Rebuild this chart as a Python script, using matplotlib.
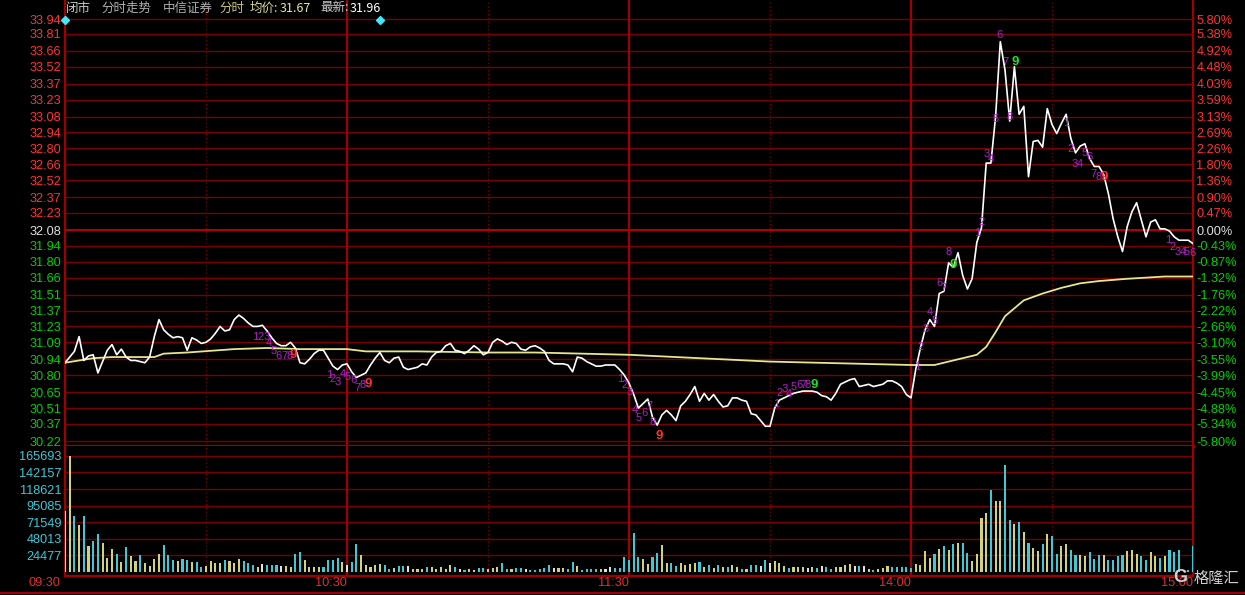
import matplotlib
matplotlib.use('Agg')
import matplotlib.pyplot as plt
from matplotlib.lines import Line2D

# ---------------- data ----------------
prev_close = 32.08
minutes = list(range(241))
price = [
    30.91, 30.96, 31.01, 31.14, 30.93, 30.97, 30.98, 30.82, 30.92, 31.02,
    31.07, 30.98, 31.03, 30.96, 30.93, 30.93, 30.92, 30.91, 30.96, 31.14,
    31.29, 31.20, 31.16, 31.13, 31.14, 31.13, 31.02, 31.13, 31.11, 31.08,
    31.09, 31.12, 31.17, 31.23, 31.19, 31.20, 31.29, 31.33, 31.30, 31.26,
    31.23, 31.23, 31.24, 31.19, 31.13, 31.08, 31.06, 31.06, 31.09, 31.04,
    30.91, 30.90, 30.94, 30.99, 31.02, 31.02, 30.95, 30.88, 30.85, 30.89,
    30.90, 30.83, 30.78, 30.80, 30.82, 30.89, 30.95, 31.00, 30.93, 30.91,
    30.95, 30.96, 30.87, 30.85, 30.86, 30.87, 30.90, 30.89, 30.96, 31.00,
    31.01, 31.06, 31.08, 31.02, 31.01, 30.99, 31.02, 31.06, 31.03, 30.98,
    31.00, 31.09, 31.12, 31.10, 31.07, 31.09, 31.08, 31.03, 31.02, 31.05,
    31.06, 31.04, 31.01, 30.93, 30.90, 30.90, 30.90, 30.89, 30.83, 30.96,
    30.95, 30.92, 30.90, 30.88, 30.88, 30.89, 30.89, 30.89, 30.85, 30.80,
    30.73,
    30.63, 30.51, 30.55, 30.59, 30.43, 30.36, 30.45, 30.49, 30.45, 30.40,
    30.53, 30.57, 30.63, 30.70, 30.57, 30.64, 30.58, 30.63, 30.57, 30.52,
    30.53, 30.60, 30.60, 30.58, 30.57, 30.46, 30.45, 30.40, 30.35, 30.35,
    30.51, 30.58, 30.60, 30.62, 30.64, 30.65, 30.66, 30.66, 30.66, 30.65,
    30.62, 30.61, 30.58, 30.64, 30.72, 30.74, 30.76, 30.77, 30.70, 30.71,
    30.72, 30.70, 30.71, 30.72, 30.75, 30.75, 30.73, 30.70, 30.63, 30.60,
    30.85, 31.04, 31.20, 31.29, 31.23, 31.52, 31.54, 31.79, 31.75, 31.88,
    31.68, 31.56, 31.65, 31.97, 32.10, 32.67, 32.67, 33.08, 33.74, 33.49,
    33.04, 33.52, 33.10, 33.17, 32.55, 32.86, 32.87, 32.81, 33.15, 33.01,
    32.93, 33.02, 33.10, 32.89, 32.76, 32.82, 32.84, 32.71, 32.64, 32.64,
    32.57, 32.40, 32.18, 32.02, 31.89, 32.11, 32.24, 32.32, 32.17, 32.02,
    32.15, 32.17, 32.09, 32.09, 32.07, 32.02, 31.99, 31.99, 31.99, 31.96,
]
avg_minutes = [0, 3, 6, 10, 19, 21, 26, 36, 43, 50, 60, 64, 75, 90, 100,
               110, 120, 130, 140, 150, 160, 170, 180, 185, 188, 192, 194,
               196, 198, 200, 202, 204, 208, 212, 216, 220, 226, 234, 240]
avg_price = [30.91, 30.93, 30.95, 30.96, 30.96, 30.99, 31.00, 31.03, 31.04,
             31.03, 31.03, 31.01, 31.01, 31.00, 31.00, 30.99, 30.98, 30.96,
             30.94, 30.92, 30.91, 30.90, 30.89, 30.89, 30.92, 30.96, 30.98,
             31.05, 31.18, 31.32, 31.39, 31.46, 31.52, 31.57, 31.61, 31.63,
             31.65, 31.67, 31.67]
volume = [
    87080, 166000, 80490, 67310, 80490, 38130, 44250, 55070, 41420, 20240,
    33420, 26830, 14590, 36240, 24010, 16470, 24950, 12710, 8940, 19300,
    25890, 39070, 24950, 17420, 16470, 19300, 18360, 14590, 14590, 8000,
    8470, 16470, 12710, 12710, 17420, 16470, 13650, 19300, 16470, 12710,
    9880, 8000, 11770, 9880, 9880, 9880, 8940, 8940, 8000, 26830,
    29650, 17420, 8000, 8000, 8000, 7060, 17420, 18360, 21180, 14590,
    10830, 15530, 40010, 24950, 10830, 7060, 9880, 11770, 9880, 5180,
    6120, 8940, 8940, 8940, 5180, 5180, 5180, 7060, 8000, 5180,
    8000, 5180, 9880, 8000, 5180, 3300, 5180, 3300, 6120, 6120,
    5180, 6120, 8000, 12710, 4240, 4240, 6120, 6120, 4240, 3300,
    3300, 5180, 6120, 9880, 6120, 6120, 6120, 4240, 15530, 8940,
    3300, 4240, 4240, 5180, 4240, 4240, 7060, 6120, 6120, 22120,
    18360,
    56010, 22120, 19300, 11770, 22120, 27770, 39070, 12710, 12710, 8940,
    12710, 9880, 11770, 13650, 15530, 7060, 10830, 6120, 9880, 7060,
    7060, 10830, 8000, 4240, 5180, 9880, 10830, 8940, 18360, 12710,
    16470, 12710, 8940, 6120, 8000, 8000, 7060, 6120, 7060, 6120,
    8940, 7060, 5180, 7060, 7060, 10830, 11770, 8940, 8940, 8940,
    5180, 3300, 5180, 6120, 8940, 7060, 7060, 8000, 7060, 6120,
    11770, 10830, 30600, 20240, 26830, 33420, 37190, 31540, 40010, 41890,
    41890, 27770, 16470, 26830, 76720, 84260, 117200, 101200, 101200, 152980,
    74840, 68250, 72020, 57900, 41890, 34360, 30600, 40010, 55070, 51310,
    25890, 38130, 40950, 32480, 24950, 24950, 23060, 29650, 19300, 24950,
    24950, 18360, 18360, 24010, 24950, 30600, 31540, 25890, 24010, 18360,
    29650, 23060, 21180, 24010, 31540, 29650, 32480, 4000, 4000, 38130,
]
# tick direction of each minute: u = up, d = down, f = flat
vol_dir = "".join([
    "fudududduu", "ududuuduuu", "uddduddudd", "uuuuduuudd", "dufdddfuud",
    "duuuuddddu", "fdduuuuudd", "uddfuuuduu", "uuudfduudd", "uuudduddfd",
    "ddddfuuddu", "dddduffddd", "d",
    "dduudduudd", "uuuudududu", "duududdfdf", "uuuduuufud", "fdduuuufdf",
    "uduuuddddd", "uuuudududu", "dduuuuduud", "dududuudud", "duudduuddd",
    "udddduuudd", "uududddddd",
])
price_ticks = [33.94, 33.81, 33.66, 33.52, 33.37, 33.23, 33.08, 32.94, 32.80,
               32.66, 32.52, 32.37, 32.23, 32.08, 31.94, 31.80, 31.66, 31.51,
               31.37, 31.23, 31.09, 30.94, 30.80, 30.65, 30.51, 30.37, 30.22]
pct_labels = ['5.80%', '5.38%', '4.92%', '4.48%', '4.03%', '3.59%', '3.13%',
              '2.69%', '2.26%', '1.80%', '1.36%', '0.90%', '0.47%', '0.00%',
              '-0.43%', '-0.87%', '-1.32%', '-1.76%', '-2.22%', '-2.66%',
              '-3.10%', '-3.55%', '-3.99%', '-4.45%', '-4.88%', '-5.34%',
              '-5.80%']
vol_ticks = [165693, 142157, 118621, 95085, 71549, 48013, 24477]
time_ticks = [0, 60, 120, 180, 240]
time_labels = ['09:30', '10:30', '11:30', '14:00', '15:00']
half_hour_ticks = [30, 90, 150, 210]
event_minutes = [0, 67]
# TD sequential counts: (minute, price, text, kind)  p=purple r=red g=green
td_marks = [
    (40.4, 31.14, '1', 'p'), (41.7, 31.14, '2', 'p'), (43.0, 31.14, '3', 'p'),
    (43.4, 31.08, '4', 'p'), (44.3, 31.01, '5', 'p'), (45.5, 30.97, '6', 'p'),
    (46.6, 30.97, '7', 'p'), (47.7, 30.97, '8', 'p'), (48.6, 30.98, '9', 'r'),
    (56.2, 30.80, '1', 'p'), (57.0, 30.77, '2', 'p'), (58.1, 30.74, '3', 'p'),
    (59.1, 30.81, '4', 'p'), (60.2, 30.78, '5', 'p'), (61.3, 30.76, '6', 'p'),
    (62.3, 30.69, '7', 'p'), (63.4, 30.71, '8', 'p'), (64.5, 30.72, '9', 'r'),
    (118.1, 30.77, '1', 'p'), (119.1, 30.71, '2', 'p'), (120.2, 30.65, '3', 'p'),
    (121.3, 30.49, '4', 'p'), (122.1, 30.42, '5', 'p'), (123.2, 30.47, '6', 'p'),
    (124.3, 30.53, '7', 'p'), (125.1, 30.39, '8', 'p'), (126.4, 30.26, '9', 'r'),
    (151.3, 30.55, '1', 'p'), (152.1, 30.64, '2', 'p'), (153.2, 30.68, '3', 'p'),
    (154.0, 30.63, '4', 'p'), (155.1, 30.70, '5', 'p'), (156.2, 30.71, '6', 'p'),
    (157.2, 30.71, '7', 'p'), (158.1, 30.71, '8', 'p'), (159.4, 30.71, '9', 'g'),
    (181.3, 30.87, '1', 'p'), (182.1, 31.05, '2', 'p'), (183.2, 31.21, '3', 'p'),
    (184.0, 31.36, '4', 'p'), (185.1, 31.28, '5', 'p'), (186.0, 31.61, '6', 'p'),
    (187.0, 31.57, '7', 'p'), (188.1, 31.89, '8', 'p'), (188.9, 31.77, '9', 'g'),
    (194.0, 32.05, '1', 'p'), (195.1, 32.15, '2', 'p'), (196.2, 32.75, '3', 'p'),
    (197.0, 32.71, '4', 'p'), (198.1, 33.06, '5', 'p'), (198.9, 33.80, '6', 'p'),
    (200.0, 33.56, '7', 'p'), (200.9, 33.08, '8', 'p'), (202.1, 33.56, '9', 'g'),
    (213.0, 33.02, '1', 'p'), (214.0, 32.79, '2', 'p'), (214.9, 32.66, '3', 'p'),
    (216.0, 32.66, '4', 'p'), (217.0, 32.76, '5', 'p'), (217.9, 32.72, '6', 'p'),
    (218.9, 32.57, '7', 'p'), (220.0, 32.55, '8', 'p'), (221.1, 32.55, '9', 'r'),
    (234.7, 31.99, '1', 'p'), (235.7, 31.93, '2', 'p'), (236.8, 31.89, '3', 'p'),
    (237.9, 31.89, '4', 'p'), (238.7, 31.89, '5', 'p'), (239.8, 31.88, '6', 'p'),
]
header = [('闭市', '#c8c8c8'), ('分时走势', '#b0b0b0'), ('中信证券', '#b0b0b0'),
          ('分时', '#c8c870'), ('均价:', '#d8d890'), ('31.67', '#e8e8a0'),
          ('最新:', '#c8c8c8'), ('31.96', '#ffffff')]

# ---------------- styling ----------------
W, H = 1245, 595
BG = 'black'
GRID = '#7a0000'
MAIN = '#a00000'
RED = '#ff3333'
GREEN = '#00d000'
CYAN = '#3cc8d8'
NUM_FONT = ['Liberation Sans', 'DejaVu Sans']
CJK_FONT = ['Noto Sans CJK SC', 'DejaVu Sans']
plt.rcParams['font.family'] = NUM_FONT

fig = plt.figure(figsize=(W / 100, H / 100), dpi=100, facecolor=BG)


def fx(px):
    return px / W


def fy(py):
    return 1 - py / H


x0, x1 = 65, 1193
# price panel: y pixel 0 .. 446 ; 33.94 at y=19, 30.22 at y=441
upp = (33.94 - 30.22) / (441 - 19)
ax = fig.add_axes([fx(x0), fy(446), fx(x1) - fx(x0), 446 / H])
ax.set_facecolor(BG)
ax.set_xlim(0, 240)
ax.set_ylim(30.22 - 5 * upp, 33.94 + 19 * upp)

for p in price_ticks:
    if abs(p - prev_close) < 1e-6:
        ax.axhline(p, color='#b00000', lw=1.5, zorder=1)
    else:
        ax.axhline(p, color=GRID, lw=1.0, zorder=1)
for m in time_ticks[1:-1]:
    ax.axvline(m, color=MAIN, lw=1.6, zorder=1)
for m in half_hour_ticks:
    ax.axvline(m, color=GRID, lw=0.9, ls=(0, (1, 2)), zorder=1)
for side in ['left', 'right', 'bottom']:
    ax.spines[side].set_color(MAIN)
    ax.spines[side].set_linewidth(1.6)
ax.spines['bottom'].set_linewidth(2.4)
ax.spines['top'].set_visible(False)

ax.plot(avg_minutes, avg_price, color='#e6e68a', lw=1.3, zorder=3)
ax.plot(minutes, price, color='white', lw=1.2, zorder=4)
ax.plot(event_minutes, [33.93] * len(event_minutes), 'D', color='#40e8f8',
        ms=4.5, zorder=6, clip_on=False)

td_colors = {'p': '#b020c8', 'r': '#ff3030', 'g': '#20e020'}
for m, p, t, k in td_marks:
    big = k != 'p'
    ax.text(m, p, t, color=td_colors[k], fontsize=9.5 if big else 8,
            fontweight='bold' if big else 'normal', ha='center', va='center',
            zorder=5, family=NUM_FONT)

ax.set_xticks([])
ax.set_yticks(price_ticks)
ax.set_yticklabels([f'{p:.2f}' for p in price_ticks], fontsize=9.2)
ax.tick_params(axis='y', length=0, pad=2.5)
for lbl, p in zip(ax.get_yticklabels(), price_ticks):
    if p > prev_close + 1e-6:
        lbl.set_color(RED)
    elif p < prev_close - 1e-6:
        lbl.set_color(GREEN)
    else:
        lbl.set_color('#e0e0e0')

axr = ax.twinx()
axr.set_ylim(ax.get_ylim())
axr.set_yticks(price_ticks)
axr.set_yticklabels(pct_labels, fontsize=9.2)
axr.tick_params(axis='y', length=0, pad=2.5)
for s in axr.spines.values():
    s.set_visible(False)
for lbl, p in zip(axr.get_yticklabels(), price_ticks):
    if p > prev_close + 1e-6:
        lbl.set_color(RED)
    elif p < prev_close - 1e-6:
        lbl.set_color(GREEN)
    else:
        lbl.set_color('#e0e0e0')

# ---------------- volume panel ----------------
vpp = 23536 / 16.7
vax = fig.add_axes([fx(x0), fy(576), fx(x1) - fx(x0), 130 / H])
vax.set_facecolor(BG)
vax.set_xlim(0, 240)
vax.set_ylim(-3.6 * vpp, 165693 + 10 * vpp)
for v in vol_ticks:
    vax.axhline(v, color=GRID, lw=1.0, zorder=1)
for m in time_ticks[1:-1]:
    vax.axvline(m, color=MAIN, lw=1.6, zorder=1)
for m in half_hour_ticks:
    vax.axvline(m, color=GRID, lw=0.9, ls=(0, (1, 2)), zorder=1)
for side in ['left', 'right', 'bottom']:
    vax.spines[side].set_color(MAIN)
    vax.spines[side].set_linewidth(1.6)
vax.spines['top'].set_visible(False)

dir_color = {'u': '#d2d278', 'd': '#40c8d4', 'f': '#e0e0e0'}
vax.bar(minutes, volume, width=0.45, color=[dir_color[c] for c in vol_dir],
        zorder=3)
vax.set_xticks([])
vax.set_yticks(vol_ticks)
vax.set_yticklabels([str(v) for v in vol_ticks], fontsize=9.2, color=CYAN)
vax.tick_params(axis='y', length=0, pad=2.5)

for m, lab in zip(time_ticks, time_labels):
    dx = -3.5 if m == 0 else 0
    vax.annotate(lab, xy=(m, 0), xycoords=('data', 'axes fraction'),
                 xytext=(dx, -5.3), textcoords='offset points', ha='right',
                 va='center', color='#e03030', fontsize=9.2)

# bottom border line
fig.add_artist(Line2D([0, 1], [fy(593), fy(593)], color=MAIN, lw=1.6))

# ---------------- header ----------------
hx = [66, 101, 163, 219, 250, 280, 320, 350]
for (txt, col), px in zip(header, hx):
    fig.text(fx(px), fy(8), txt, color=col, fontsize=9, ha='left',
             va='center', family=CJK_FONT)

# watermark
fig.text(fx(1180), fy(578), 'G', color='#d0d0d0', fontsize=13,
         fontweight='bold', ha='center', va='center')
fig.text(fx(1216), fy(578), '格隆汇', color='#d0d0d0', fontsize=11,
         ha='center', va='center', family=CJK_FONT)

fig.savefig('out.png', dpi=100, facecolor=BG)
